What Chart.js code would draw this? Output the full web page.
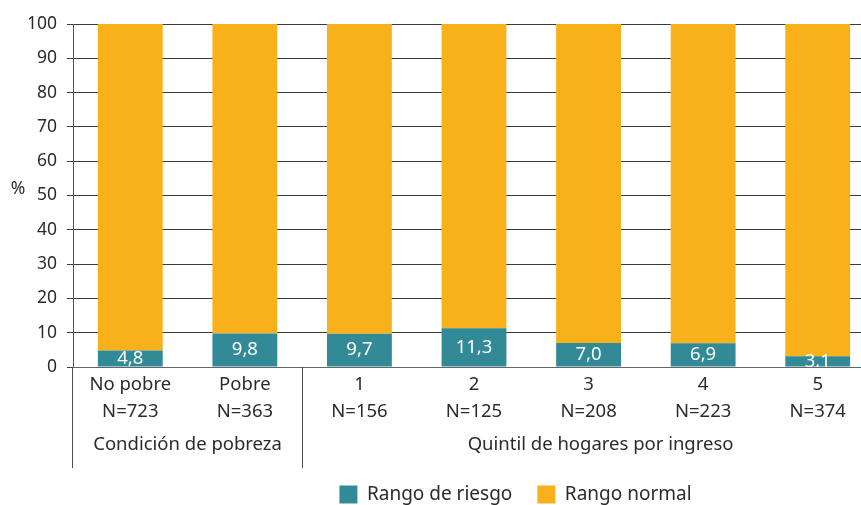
<!DOCTYPE html>
<html>
<head>
<meta charset="utf-8">
<script src="https://cdn.jsdelivr.net/npm/chart.js@4/dist/chart.umd.min.js"></script>
<style>
  html, body { margin: 0; padding: 0; background: #fff; overflow: hidden; }
  #wrap { width: 875px; height: 505px; }
</style>
</head>
<body>
<div id="wrap"><canvas id="c" width="875" height="505"></canvas></div>
<script>
const categories = ['No pobre', 'Pobre', '1', '2', '3', '4', '5'];
const sampleSizes = ['N=723', 'N=363', 'N=156', 'N=125', 'N=208', 'N=223', 'N=374'];
const riesgo = [4.8, 9.8, 9.7, 11.3, 7.0, 6.9, 3.1];
const normal = [95.2, 90.2, 90.3, 88.7, 93.0, 93.1, 96.9];
const groupLabels = ['Condición de pobreza', 'Quintil de hogares por ingreso'];
const yTicks = [0, 10, 20, 30, 40, 50, 60, 70, 80, 90, 100];

const FONT = '"Noto Sans", "Open Sans", sans-serif';
const TEXT = '#2b2b2b';
const TEAL = '#328a97';
const ORANGE = '#f9b11b';
const FS_X = 18.5;
const FS_Y = 17.5;
const FS_LEG = 19;

const decor = {
  id: 'decor',
  afterLayout(chart) {
    const lg = chart.legend;
    if (lg) { lg.left += 78; lg.right += 78; lg.top -= 8; }
  },
  afterDatasetsDraw(chart) {
    const ctx = chart.ctx, area = chart.chartArea;
    const meta = chart.getDatasetMeta(0);
    ctx.save();
    ctx.beginPath();
    ctx.rect(area.left, area.top, area.right - area.left, area.bottom - area.top);
    ctx.clip();
    ctx.fillStyle = '#ffffff';
    ctx.font = FS_X + 'px ' + FONT;
    ctx.textAlign = 'center';
    ctx.textBaseline = 'middle';
    meta.data.forEach((bar, i) => {
      const y = (bar.y + bar.base) / 2;
      ctx.fillText(riesgo[i].toFixed(1).replace('.', ','), bar.x, y);
    });
    ctx.restore();
  },
  afterDraw(chart) {
    const ctx = chart.ctx, area = chart.chartArea;
    const xs = chart.scales.x, ys = chart.scales.y;
    ctx.save();
    ctx.strokeStyle = '#4d4d4d';
    ctx.lineWidth = 1;
    const sep = Math.round((xs.getPixelForValue(1) + xs.getPixelForValue(2)) / 2) + 0.5;
    const axX = Math.round(area.left) - 0.5;
    ctx.beginPath();
    ctx.moveTo(axX, area.bottom);
    ctx.lineTo(axX, xs.bottom);
    ctx.moveTo(sep, area.bottom);
    ctx.lineTo(sep, xs.bottom);
    ctx.stroke();
    ctx.fillStyle = TEXT;
    ctx.font = FS_X + 'px ' + FONT;
    ctx.textAlign = 'center';
    ctx.textBaseline = 'middle';
    const gy = area.bottom + 78;
    ctx.fillText(groupLabels[0], (xs.getPixelForValue(0) + xs.getPixelForValue(1)) / 2, gy);
    ctx.fillText(groupLabels[1], xs.getPixelForValue(4) + 12, gy);
    ctx.font = FS_Y + 'px ' + FONT;
    ctx.fillText('%', 18, ys.getPixelForValue(52));
    ctx.restore();
  }
};

new Chart(document.getElementById('c'), {
  type: 'bar',
  data: {
    labels: categories.map((c, i) => [c, sampleSizes[i]]),
    datasets: [
      { label: 'Rango de riesgo', data: riesgo, backgroundColor: TEAL },
      { label: 'Rango normal', data: normal, backgroundColor: ORANGE }
    ]
  },
  options: {
    responsive: false,
    animation: false,
    devicePixelRatio: 1,
    layout: { padding: { top: 24, left: 0, right: 0, bottom: 0 } },
    datasets: { bar: { categoryPercentage: 1, barPercentage: 0.566 } },
    plugins: {
      tooltip: { enabled: false },
      legend: {
        position: 'bottom',
        maxHeight: 37,
        labels: {
          boxWidth: 18, boxHeight: 18, padding: 25,
          color: TEXT,
          font: { family: FONT, size: FS_LEG }
        }
      }
    },
    scales: {
      x: {
        stacked: true,
        grid: { display: false, drawTicks: false },
        border: { display: true, color: '#666666', width: 1 },
        ticks: {
          color: TEXT, padding: 4, maxRotation: 0, autoSkip: false,
          font: { family: FONT, size: FS_X, lineHeight: 27 / FS_X }
        },
        afterFit(s) { s.height = 101; }
      },
      y: {
        stacked: true,
        min: 0, max: 100,
        afterBuildTicks(s) { s.ticks = yTicks.map(v => ({ value: v })); },
        grid: { color: '#3a3a3a', lineWidth: 1, tickLength: 6, drawTicks: true },
        border: { display: true, color: '#555555', width: 1 },
        ticks: {
          color: TEXT, padding: 10,
          font: { family: FONT, size: FS_Y }
        },
        afterFit(s) { s.width = 73; }
      }
    }
  },
  plugins: [decor]
});
</script>
</body>
</html>
